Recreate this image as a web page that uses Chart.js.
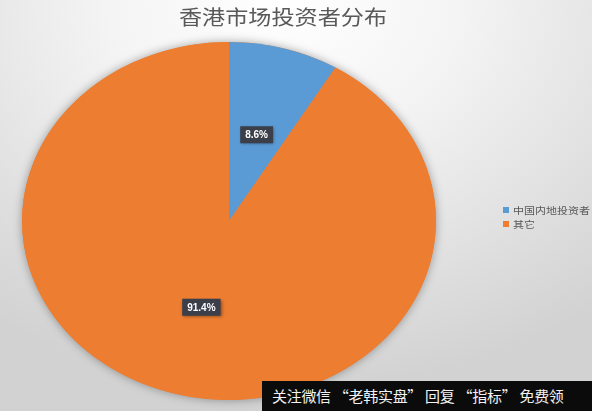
<!DOCTYPE html>
<html lang="zh">
<head>
    <meta charset="UTF-8">
    <title>香港市场投资者分布</title>
    <script src="https://cdn.jsdelivr.net/npm/chart.js"></script>
    <style>
        body { margin: 0; }
        #wrap {
            position: relative; width: 592px; height: 411px; overflow: hidden;
            background: radial-gradient(ellipse 85% 95% at 48% 0%, #ffffff 0%, #f4f4f4 35%, #d2d2d2 100%);
            font-family: "Noto Sans CJK SC", sans-serif;
        }
        #myChart { position: absolute; left: 0; top: 0; }
        #titre {
            position: absolute; left: 283px; top: 2px; white-space: nowrap;
            font-size: 20px; color: #595959;
            transform: translateX(-50%) scaleX(1.156);
        }
        #legende { position: absolute; left: 503px; top: 203px; }
        .item { height: 14px; display: flex; align-items: center; white-space: nowrap; }
        .carre { width: 6px; height: 6px; margin-right: 4px; }
        .item span { font-size: 9.5px; color: #595959; transform: scaleX(1.156); transform-origin: left center; }
        #pub {
            position: absolute; left: 262px; top: 381px; width: 330px; height: 30px;
            background: #0b0b0b; color: #f2f2f2; font-size: 15px; line-height: 30px;
            letter-spacing: -0.3px;
            padding-left: 10px; box-sizing: border-box; white-space: nowrap;
        }
    </style>
</head>
<body>
    <div id="wrap">
        <canvas id="myChart" width="592" height="411"></canvas>
        <div id="titre"></div>
        <div id="legende"></div>
        <div id="pub">关注微信 “老韩实盘” 回复 “指标” 免费领</div>
    </div>

    <script>
        // données
        const titre = '香港市场投资者分布';
        const categories = ['中国内地投资者', '其它'];
        const parts = [8.6, 91.4];
        const couleurs = ['#5B9BD5', '#ED7D31'];

        // l'image d'origine est étirée horizontalement
        const ETIRE = 1.156;

        document.getElementById('titre').textContent = titre;

        // légende à droite
        const leg = document.getElementById('legende');
        categories.forEach((cat, i) => {
            const d = document.createElement('div');
            d.className = 'item';
            d.innerHTML = '<div class="carre" style="background:' + couleurs[i] + '"></div><span>' + cat + '</span>';
            leg.appendChild(d);
        });

        const ellipse = {
            id: 'ellipse',
            beforeDatasetsDraw(chart) {
                const ctx = chart.ctx;
                const arc = chart.getDatasetMeta(0).data[0];
                const cx = arc.x, cy = arc.y, r = arc.outerRadius;
                // ombre douce autour du camembert
                ctx.save();
                ctx.beginPath();
                ctx.ellipse(cx, cy, r * ETIRE, r, 0, 0, Math.PI * 2);
                ctx.shadowColor = 'rgba(0,0,0,0.35)';
                ctx.shadowBlur = 10;
                ctx.fillStyle = couleurs[1];
                ctx.fill();
                ctx.restore();
                ctx.save();
                ctx.translate(cx, cy);
                ctx.scale(ETIRE, 1);
                ctx.translate(-cx, -cy);
            },
            afterDatasetsDraw(chart) {
                const ctx = chart.ctx;
                ctx.restore();
                // étiquettes de pourcentage
                chart.getDatasetMeta(0).data.forEach((arc, i) => {
                    const mid = (arc.startAngle + arc.endAngle) / 2;
                    const x = arc.x + Math.cos(mid) * arc.outerRadius * 0.5 * ETIRE;
                    const y = arc.y + Math.sin(mid) * arc.outerRadius * 0.5;
                    const txt = parts[i].toFixed(1) + '%';
                    ctx.save();
                    ctx.font = 'bold 10px "Liberation Sans", Arial, sans-serif';
                    const w = ctx.measureText(txt).width + 10;
                    const h = 17;
                    ctx.shadowColor = 'rgba(0,0,0,0.4)';
                    ctx.shadowBlur = 3;
                    ctx.shadowOffsetX = 1;
                    ctx.shadowOffsetY = 1;
                    ctx.fillStyle = '#3A3F49';
                    ctx.fillRect(x - w / 2, y - h / 2, w, h);
                    ctx.shadowColor = 'transparent';
                    ctx.fillStyle = '#ffffff';
                    ctx.textAlign = 'center';
                    ctx.textBaseline = 'middle';
                    ctx.fillText(txt, x, y + 0.5);
                    ctx.restore();
                });
            }
        };

        const ctx = document.getElementById('myChart').getContext('2d');
        new Chart(ctx, {
            type: 'pie',
            data: {
                labels: categories,
                datasets: [{
                    data: parts,
                    backgroundColor: couleurs,
                    borderWidth: 0,
                    hoverOffset: 0
                }]
            },
            options: {
                responsive: false,
                animation: false,
                events: [],
                layout: { padding: { left: 50, top: 42, right: 184, bottom: 11 } },
                plugins: {
                    legend: { display: false },
                    title: { display: false },
                    tooltip: { enabled: false }
                }
            },
            plugins: [ellipse]
        });
    </script>
</body>
</html>
